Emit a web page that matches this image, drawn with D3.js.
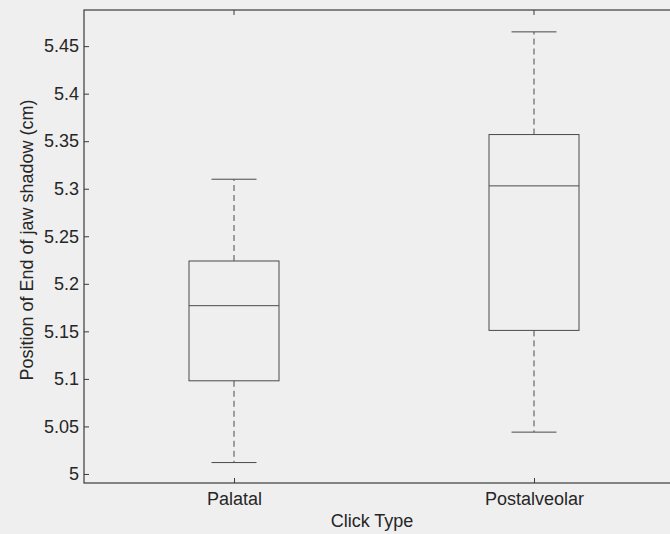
<!DOCTYPE html>
<html>
<head>
<meta charset="utf-8">
<script src="https://cdn.jsdelivr.net/npm/d3@7"></script>
<style>
  body { margin: 0; background: #efefef; }
  svg { display: block; }
  text { font-family: "Liberation Sans", Arial, sans-serif; fill: #262626; }
</style>
</head>
<body>
<svg id="chart" width="670" height="534"></svg>
<script>
// values
const categories = ["Palatal", "Postalveolar"];
const lowerWhisker = [5.012, 5.044];
const q1 = [5.098, 5.151];
const median = [5.177, 5.303];
const q3 = [5.224, 5.357];
const upperWhisker = [5.310, 5.465];
const yTicks = [5, 5.05, 5.1, 5.15, 5.2, 5.25, 5.3, 5.35, 5.4, 5.45];

let svg = d3.select("#chart");
let plotL = 84, plotR = 684, plotT = 10, plotB = 483;

let x = d3.scaleLinear().domain([0.5, 2.5]).range([plotL, plotR]);
let y = d3.scaleLinear().domain([4.9905, 5.488]).range([plotB, plotT]);

let boxW = 0.3, capW = 0.15;
let lineCol = "#4a4a4a", axisCol = "#3a3a3a";
let txtCol = "#262626";

let g = svg.append("g");

// axes box
g.append("rect")
  .attr("x", plotL).attr("y", plotT)
  .attr("width", plotR - plotL).attr("height", plotB - plotT)
  .attr("fill", "none").attr("stroke", axisCol).attr("stroke-width", 1.2);

// y ticks (inward) + labels
let yAxis = d3.axisLeft(y).tickValues(yTicks).tickSize(-5).tickPadding(5)
  .tickFormat(d => String(+d.toFixed(2)));
g.append("g").attr("transform", "translate(" + plotL + ",0)").call(yAxis)
  .call(s => s.select(".domain").remove())
  .call(s => s.selectAll("line").attr("stroke", axisCol))
  .call(s => s.selectAll("text").attr("font-size", 18).attr("fill", txtCol)
    .style("font-family", "Liberation Sans, Arial, sans-serif"));

// x ticks (inward) + labels
let xAxis = d3.axisBottom(x).tickValues([1, 2]).tickSize(-5).tickPadding(9)
  .tickFormat((d, i) => categories[i]);
g.append("g").attr("transform", "translate(0," + plotB + ")").call(xAxis)
  .call(s => s.select(".domain").remove())
  .call(s => s.selectAll("line").attr("stroke", axisCol))
  .call(s => s.selectAll("text").attr("font-size", 18).attr("fill", txtCol)
    .style("font-family", "Liberation Sans, Arial, sans-serif"));

// top ticks
g.selectAll("line.topTick").data([1, 2]).join("line")
  .attr("class", "topTick")
  .attr("x1", d => x(d)).attr("x2", d => x(d))
  .attr("y1", plotT).attr("y2", plotT + 5)
  .attr("stroke", axisCol);

// boxes
let idx = d3.range(categories.length);
let boxes = g.selectAll("g.box").data(idx).join("g").attr("class", "box");

boxes.append("line") // upper whisker
  .attr("x1", i => x(i + 1)).attr("x2", i => x(i + 1))
  .attr("y1", i => y(q3[i])).attr("y2", i => y(upperWhisker[i]))
  .attr("stroke", lineCol).attr("stroke-dasharray", "6,4");
boxes.append("line") // lower whisker
  .attr("x1", i => x(i + 1)).attr("x2", i => x(i + 1))
  .attr("y1", i => y(q1[i])).attr("y2", i => y(lowerWhisker[i]))
  .attr("stroke", lineCol).attr("stroke-dasharray", "6,4");
boxes.append("line") // upper cap
  .attr("x1", i => x(i + 1 - capW / 2)).attr("x2", i => x(i + 1 + capW / 2))
  .attr("y1", i => y(upperWhisker[i])).attr("y2", i => y(upperWhisker[i]))
  .attr("stroke", lineCol);
boxes.append("line") // lower cap
  .attr("x1", i => x(i + 1 - capW / 2)).attr("x2", i => x(i + 1 + capW / 2))
  .attr("y1", i => y(lowerWhisker[i])).attr("y2", i => y(lowerWhisker[i]))
  .attr("stroke", lineCol);
boxes.append("rect")
  .attr("x", i => x(i + 1 - boxW / 2))
  .attr("width", i => x(i + 1 + boxW / 2) - x(i + 1 - boxW / 2))
  .attr("y", i => y(q3[i]))
  .attr("height", i => y(q1[i]) - y(q3[i]))
  .attr("fill", "none").attr("stroke", lineCol);
boxes.append("line") // median
  .attr("x1", i => x(i + 1 - boxW / 2)).attr("x2", i => x(i + 1 + boxW / 2))
  .attr("y1", i => y(median[i])).attr("y2", i => y(median[i]))
  .attr("stroke", lineCol);

// axis titles
svg.append("text")
  .attr("x", 372).attr("y", 527)
  .attr("text-anchor", "middle").attr("font-size", 18)
  .text("Click Type");
svg.append("text")
  .attr("transform", "translate(33,240) rotate(-90)")
  .attr("text-anchor", "middle").attr("font-size", 18)
  .text("Position of End of jaw shadow (cm)");
</script>
</body>
</html>
